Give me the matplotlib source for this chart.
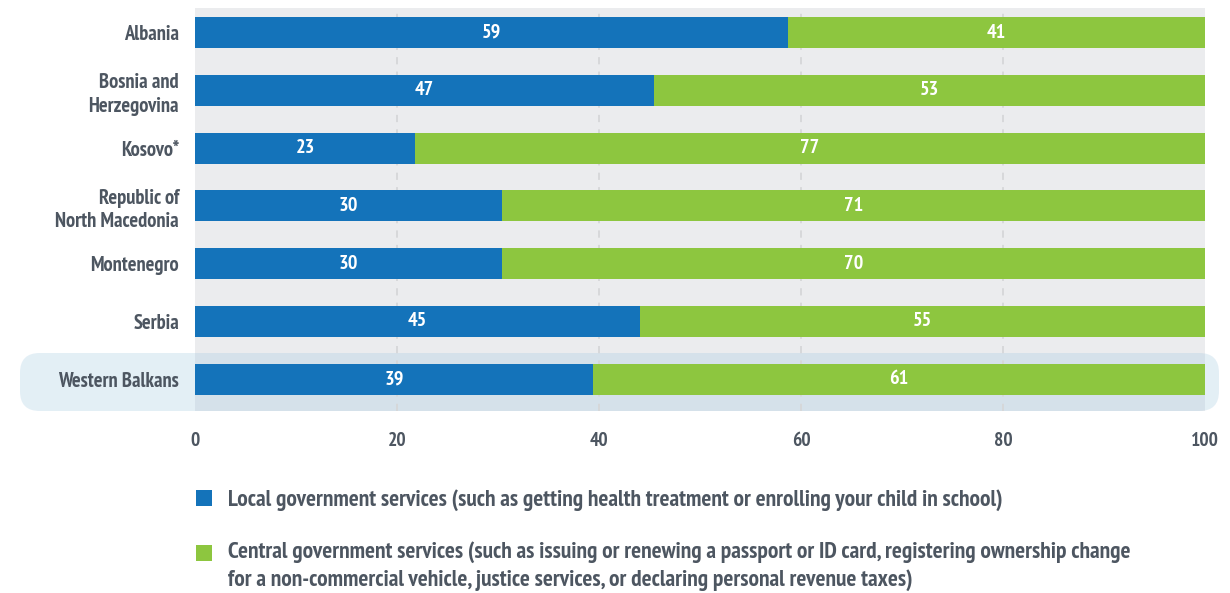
import os
import matplotlib
matplotlib.use("Agg")
import matplotlib.pyplot as plt
import matplotlib.font_manager as fm
from matplotlib.patches import FancyBboxPatch, Rectangle

countries = ['Albania', 'Bosnia and\nHerzegovina', 'Kosovo*', 'Republic of\nNorth Macedonia',
             'Montenegro', 'Serbia', 'Western Balkans']
# bar lengths as drawn
local_share = [58.7, 45.4, 21.8, 30.4, 30.4, 44.1, 39.4]
central_share = [100 - v for v in local_share]
# printed labels
local_labels = [59, 47, 23, 30, 30, 45, 39]
central_labels = [41, 53, 77, 71, 70, 55, 61]

legend_labels = [
    'Local government services (such as getting health treatment or enrolling your child in school)',
    'Central government services (such as issuing or renewing a passport or ID card, registering ownership change\n'
    'for a non-commercial vehicle, justice services, or declaring personal revenue taxes)',
]

# the original uses a condensed bold face, pick a narrow one if there is one
font_file = None
for key in ['pt_sans-narrow', 'narrow', 'condensed']:
    for f in fm.fontManager.ttflist:
        base = os.path.basename(f.fname).lower()
        if key in base and 'bold' in base and 'italic' not in base and 'oblique' not in base \
                and 'semibold' not in base and 'extrabold' not in base:
            font_file = f.fname
            break
    if font_file:
        break
if font_file:
    fp = fm.FontProperties(fname=font_file)
else:
    fp = fm.FontProperties(family='Liberation Sans', weight='bold')

BLUE = '#1473ba'
GREEN = '#8dc63f'
TXT = '#4d5661'
BG = '#ebecee'

W, H = 1230, 593
fig = plt.figure(figsize=(W / 100, H / 100), dpi=100)
ax = fig.add_axes([195 / W, (H - 411) / H, 1010 / W, 403 / H])
ax.set_facecolor(BG)

pos = list(range(len(countries)))
bh = 0.536
ax.barh(pos, local_share, height=bh, color=BLUE, zorder=2)
ax.barh(pos, central_share, left=local_share, height=bh, color=GREEN, zorder=2)

for p, a, b, la, lb in zip(pos, local_share, central_share, local_labels, central_labels):
    ax.text(a / 2, p, str(la), ha='center', va='center', color='white',
            fontproperties=fp, fontsize=14.5, zorder=3)
    ax.text(a + b / 2, p, str(lb), ha='center', va='center', color='white',
            fontproperties=fp, fontsize=14.5, zorder=3)

for g in [20, 40, 60, 80]:
    ax.axvline(g, color='#d5d6d8', lw=1.3, ls=(0, (4, 4)), zorder=1)

ax.set_xlim(0, 100)
ax.set_ylim(6.55, -0.424)
ax.set_xticks([0, 20, 40, 60, 80, 100])
ax.set_yticks(pos)
ax.set_yticklabels(countries, ha='right', multialignment='right')
ax.tick_params(axis='x', length=0, pad=15, labelcolor=TXT)
ax.tick_params(axis='y', length=0, pad=11.5, labelcolor=TXT)
for lab in ax.get_xticklabels():
    lab.set_fontproperties(fp)
    lab.set_fontsize(14)
for lab in ax.get_yticklabels():
    lab.set_fontproperties(fp)
    lab.set_fontsize(14.8)
    lab.set_linespacing(1.3)
for s in ax.spines.values():
    s.set_visible(False)

# highlight behind Western Balkans row
hl = FancyBboxPatch((20 / W, (H - 411) / H), 1199 / W, 58 / H,
                    boxstyle='round,pad=0,rounding_size=0.016',
                    transform=fig.transFigure, facecolor='#a5cae1', alpha=0.3,
                    edgecolor='none', clip_on=False, zorder=0.5,
                    mutation_aspect=W / H)
ax.add_patch(hl)

# legend
fig.patches.append(Rectangle((196 / W, (H - 506) / H), 16 / W, 16 / H,
                             transform=fig.transFigure, facecolor=BLUE, edgecolor='none'))
fig.patches.append(Rectangle((196 / W, (H - 561) / H), 16 / W, 16 / H,
                             transform=fig.transFigure, facecolor=GREEN, edgecolor='none'))
fig.text(228 / W, (H - 500) / H, legend_labels[0], ha='left', va='center',
         fontproperties=fp, fontsize=16.8, color=TXT)
fig.text(228 / W, (H - 541) / H, legend_labels[1], ha='left', va='top',
         fontproperties=fp, fontsize=16.8, color=TXT, linespacing=1.38)

fig.savefig('out.png', dpi=100)
